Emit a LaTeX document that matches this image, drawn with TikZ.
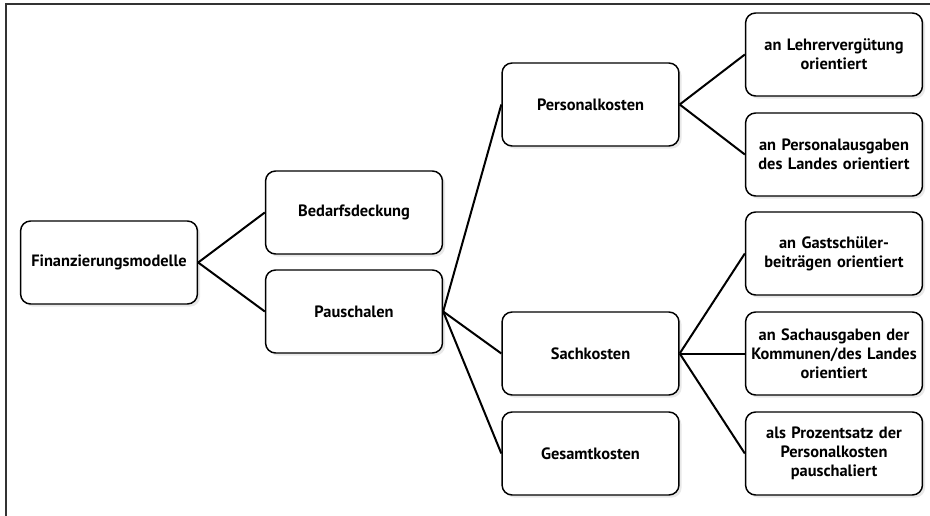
\documentclass[tikz,border=0pt]{standalone}
\usepackage{fontspec}
\setmainfont{PT Sans}
\usetikzlibrary{shadows}

\begin{document}
\begin{tikzpicture}[x=0.75pt, y=-0.75pt,
		kasten/.style={draw, rounded corners=7.5pt, line width=1.1pt, fill=white,
			minimum width=130.5pt, minimum height=62.25pt, text width=126pt, align=center,
			font=\bfseries\fontsize{12.3}{14.3}\selectfont,
			drop shadow={opacity=0.18, shadow xshift=2pt, shadow yshift=-2pt}},
		linie/.style={line width=1.5pt}]
		\useasboundingbox (0,0) rectangle (930,516);
		\draw[line width=1pt, black!80] (6,516) -- (6,4) -- (930,4);

		\node[kasten] (fin) at (109,262.5) {Finanzierungsmodelle};
		\node[kasten] (bed) at (354,212.5) {Bedarfsdeckung};
		\node[kasten] (pau) at (354,311.5) {Pauschalen};
		\node[kasten] (per) at (590.5,104.5) {Personalkosten};
		\node[kasten] (sac) at (590.5,353.5) {Sachkosten};
		\node[kasten] (ges) at (590.5,453.5) {Gesamtkosten};
		\node[kasten] (lehr) at (834,54.5) {an Lehrervergütung\\orientiert};
		\node[kasten] (pers) at (834,154.5) {an Personalausgaben\\des Landes orientiert};
		\node[kasten] (gast) at (834,253.5) {an Gastschüler-\\beiträgen orientiert};
		\node[kasten] (sach) at (834,353.5) {an Sachausgaben der\\Kommunen/des Landes\\orientiert};
		\node[kasten] (proz) at (834,453.5) {als Prozentsatz der\\Personalkosten\\pauschaliert};

		\draw[linie] (fin.east) -- (bed.west);
		\draw[linie] (fin.east) -- (pau.west);
		\draw[linie] (pau.east) -- (per.west);
		\draw[linie] (pau.east) -- (sac.west);
		\draw[linie] (pau.east) -- (ges.west);
		\draw[linie] (per.east) -- (lehr.west);
		\draw[linie] (per.east) -- (pers.west);
		\draw[linie] (sac.east) -- (gast.west);
		\draw[linie] (sac.east) -- (sach.west);
		\draw[linie] (sac.east) -- (proz.west);
	\end{tikzpicture}
\end{document}
